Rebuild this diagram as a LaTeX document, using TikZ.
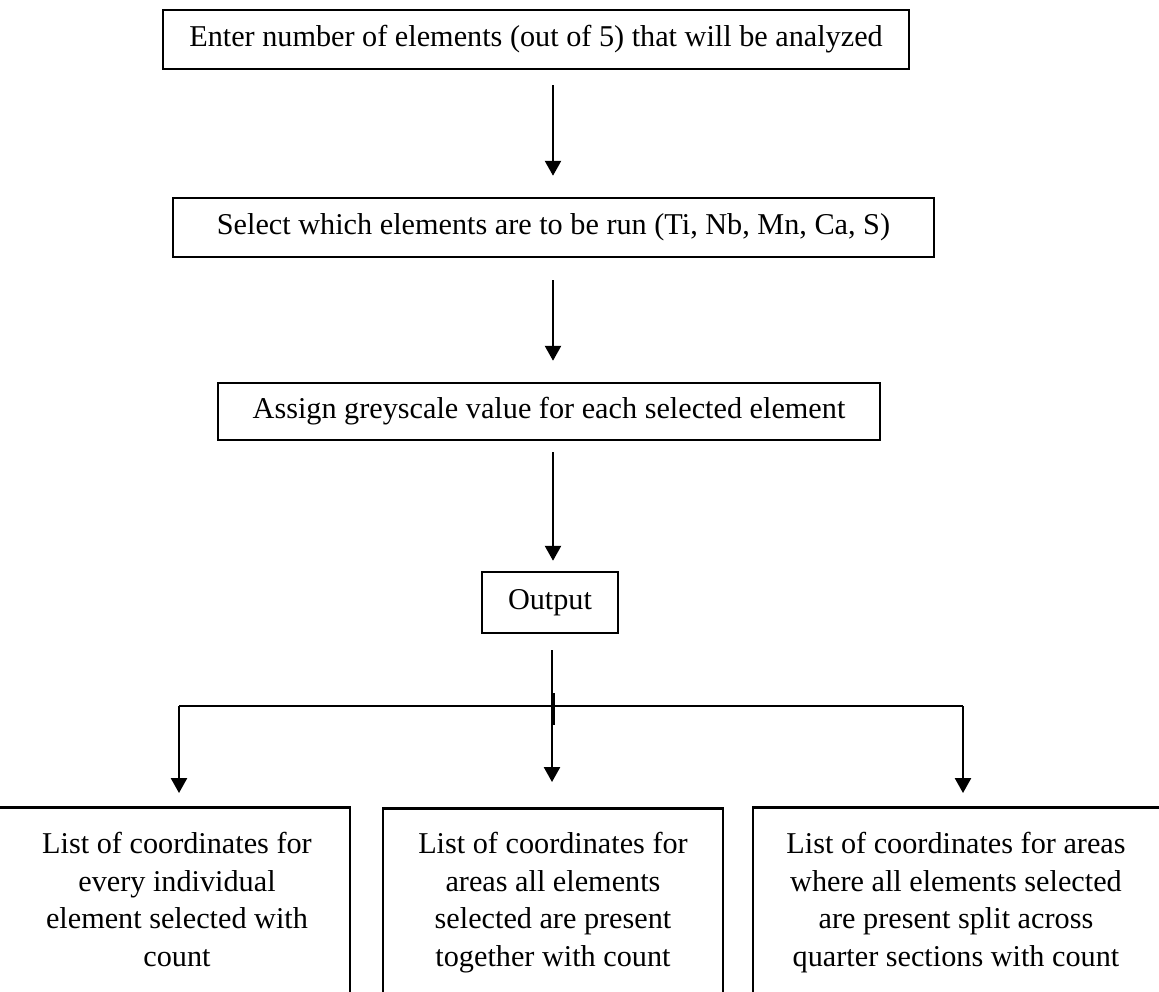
\documentclass[tikz,border=0pt]{standalone}
\usepackage{fontspec}
\setmainfont{Liberation Serif}
\usetikzlibrary{arrows.meta,calc}
\begin{document}
\begin{tikzpicture}[x=0.025cm,y=-0.025cm,
  every node/.style={font=\fontsize{21.5}{26.7}\selectfont},
  stepbox/.style={draw, line width=1.8pt, inner sep=0pt},
  txt/.style={inner sep=0pt, align=center},
  conn/.style={line width=1.4pt},
  arr/.style={conn, -{Triangle[length=0.37cm,width=0.4cm]}}]
\useasboundingbox (0,0) rectangle (1159,992);
\clip (0,0) rectangle (1159,992);
% main boxes
\node[stepbox, minimum width=18.65cm, minimum height=1.475cm] (b1) at (536,39.5)
  {Enter number of elements (out of 5) that will be analyzed};
\node[stepbox, minimum width=19.025cm, minimum height=1.475cm] (b2) at (553.5,227.5)
  {Select which elements are to be run (Ti, Nb, Mn, Ca, S)};
\node[stepbox, minimum width=16.55cm, minimum height=1.425cm] (b3) at (549,411.5)
  {Assign greyscale value for each selected element};
\node[stepbox, minimum width=3.4cm, minimum height=1.525cm] (out) at (550,602.5)
  {Output};
% bottom boxes (cut by the picture edges)
\node[stepbox, anchor=north, minimum width=8.875cm, minimum height=6.5cm] (o1) at (172.5,806) {};
\node[stepbox, anchor=north, minimum width=8.5cm, minimum height=6.5cm] (o2) at (553,807) {};
\node[stepbox, anchor=north, minimum width=10.425cm, minimum height=6.5cm] (o3) at (961.5,806) {};
\node[txt, anchor=north] (t1) at (177,832)
  {List of coordinates for\\every individual\\element selected with\\count};
\node[txt, anchor=north] (t2) at (553,832)
  {List of coordinates for\\areas all elements\\selected are present\\together with count};
\node[txt, anchor=north] (t3) at (956,832)
  {List of coordinates for areas\\where all elements selected\\are present split across\\quarter sections with count};
% connectors
\coordinate (a1s) at (553,69);
\draw[arr, shorten <=0.4cm, shorten >=0.525cm] (a1s) -- (a1s |- b2.north);
\coordinate (a2s) at (553,257);
\draw[arr, shorten <=0.575cm, shorten >=0.525cm] (a2s) -- (a2s |- b3.north);
\coordinate (a3s) at (553,440);
\draw[arr, shorten <=0.3cm, shorten >=0.25cm] (a3s) -- (a3s |- out.north);
\coordinate (a4s) at (552,633);
\draw[arr, shorten <=0.425cm, shorten >=0.625cm] (a4s) -- (a4s |- o2.north);
\coordinate (jl) at (179,706);
\coordinate (jr) at (963,706);
\draw[conn] (jl) -- (jr);
\draw[arr, shorten >=0.325cm] (jl) -- (jl |- o1.north);
\draw[arr, shorten >=0.325cm] (jr) -- (jr |- o3.north);
\coordinate (s1) at (554,693);
\coordinate (s2) at (554,725);
\draw[conn] (s1) -- (s2);
\end{tikzpicture}
\end{document}
